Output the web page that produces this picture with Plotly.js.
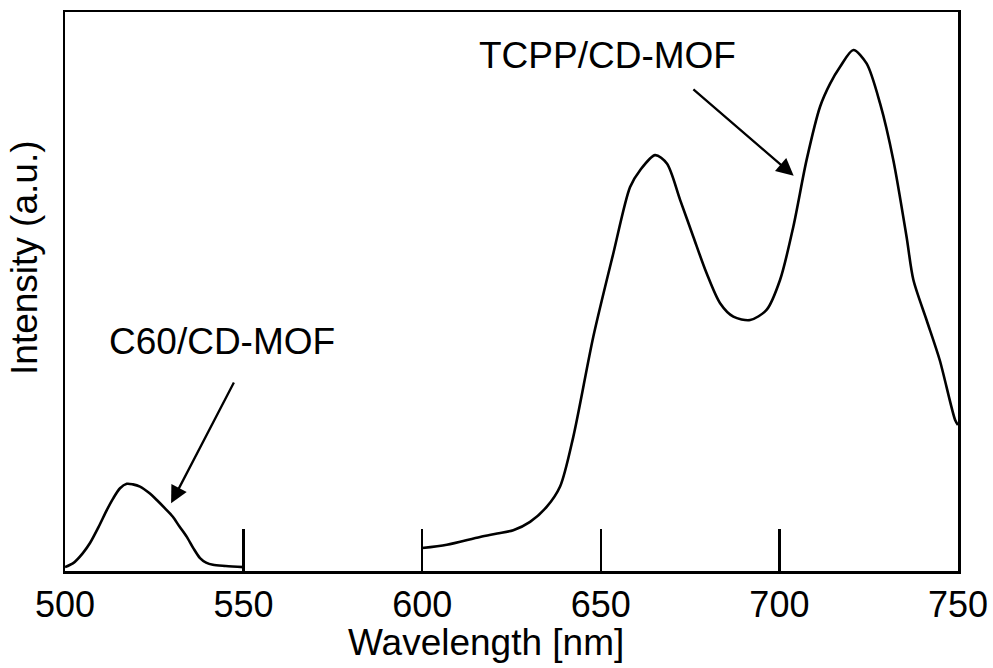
<!DOCTYPE html>
<html>
<head>
<meta charset="utf-8">
<script src="https://cdn.plot.ly/plotly-3.0.1.min.js"></script>
<style>html,body{margin:0;padding:0;background:#fff;}#chart{width:993px;height:668px;}</style>
</head>
<body>
<div id="chart"></div>
<script>
// C60/CD-MOF emission (wavelength nm, intensity a.u.)
const c60Wavelength = [500, 502.3, 505, 507, 509.5, 511.7, 513.5, 515.4, 517.3, 519, 521, 523.5, 525.7, 528, 530.2, 532, 534.1, 536, 537.8, 539.5, 541.4, 545, 550];
const c60Intensity  = [0.7, 1.4, 3.2, 5.0, 8.0, 10.9, 13.0, 14.8, 15.6, 15.5, 15.1, 14.0, 12.7, 11.2, 9.7, 8.0, 6.1, 4.0, 2.3, 1.5, 1.1, 0.9, 0.7];

// TCPP/CD-MOF emission
const tcppWavelength = [600, 606.9, 616.2, 621, 625.5, 630.2, 634.9, 638.6, 642.3, 647.9, 653.5, 658.2, 661.0, 665.2, 668.5, 672.2, 675.9, 679.6, 683.4, 687.1, 691.8, 696.4, 700.2, 703.9, 707.6, 711.4, 714.2, 717.0, 720.7, 724.4, 728.2, 731.9, 735.6, 737.5, 741.2, 744.9, 749.2, 750];
const tcppIntensity  = [4.1, 4.7, 6.1, 6.7, 7.3, 8.8, 11.5, 15.1, 24.0, 41.9, 56.8, 68.7, 71.7, 74.4, 72.9, 66.4, 59.8, 53.3, 47.9, 45.5, 44.9, 46.7, 52.1, 61.6, 73.5, 83.1, 87.2, 90.2, 93.2, 90.8, 83.6, 73.5, 59.8, 52.1, 44.9, 37.7, 27.0, 26.1];

const tickValues = [500, 550, 600, 650, 700, 750];
const tickLabels = ['500', '550', '600', '650', '700', '750'];

const seriesLabels = ['C60/CD-MOF', 'TCPP/CD-MOF'];
const xTitle = 'Wavelength [nm]';
const yTitle = 'Intensity (a.u.)';

const FONT = 'Arial, "Liberation Sans", Helvetica, sans-serif';

const traces = [
  {x: c60Wavelength, y: c60Intensity, name: seriesLabels[0], mode: 'lines',
   line: {color: '#000', width: 2.6, shape: 'spline', smoothing: 0.8}},
  {x: tcppWavelength, y: tcppIntensity, name: seriesLabels[1], mode: 'lines',
   line: {color: '#000', width: 2.6, shape: 'spline', smoothing: 0.8}}
];

const layout = {
  width: 993, height: 668,
  margin: {l: 65, r: 35, t: 12, b: 97},
  paper_bgcolor: '#fff', plot_bgcolor: '#fff',
  showlegend: false,
  font: {family: FONT, size: 36, color: '#000'},
  xaxis: {
    range: [500, 750], showgrid: false, zeroline: false,
    showline: true, mirror: true, linecolor: '#000', linewidth: 2.5,
    ticks: 'inside', ticklen: 42, tickwidth: 2.5, tickcolor: '#000',
    tickvals: tickValues, ticktext: tickLabels,
    tickfont: {family: FONT, size: 36, color: '#000'}
  },
  yaxis: {
    range: [0, 100], showgrid: false, zeroline: false,
    showline: true, mirror: true, linecolor: '#000', linewidth: 2.5,
    ticks: '', showticklabels: false
  },
  annotations: [
    {xref: 'x', yref: 'y', x: 544.0, y: 41.0, text: seriesLabels[0], showarrow: false,
     font: {family: FONT, size: 37, color: '#000'}, xanchor: 'center', yanchor: 'middle'},
    {xref: 'x', yref: 'y', x: 651.8, y: 92.3, text: seriesLabels[1], showarrow: false,
     font: {family: FONT, size: 37, color: '#000'}, xanchor: 'center', yanchor: 'middle'},
    {xref: 'x', yref: 'y', x: 529.7, y: 12.1, axref: 'x', ayref: 'y', ax: 547.5, ay: 34.0,
     text: '', showarrow: true, arrowhead: 2, arrowsize: 1.5, arrowwidth: 2.3, arrowcolor: '#000'},
    {xref: 'x', yref: 'y', x: 704.0, y: 70.7, axref: 'x', ayref: 'y', ax: 675.5, ay: 86.4,
     text: '', showarrow: true, arrowhead: 2, arrowsize: 1.5, arrowwidth: 2.3, arrowcolor: '#000'},
    {xref: 'x', yref: 'paper', x: 617.9, y: -0.128, text: xTitle, showarrow: false,
     font: {family: FONT, size: 37, color: '#000'}, xanchor: 'center', yanchor: 'middle'},
    {xref: 'paper', yref: 'paper', x: -0.0448, y: 0.56, text: yTitle, showarrow: false, textangle: -90,
     font: {family: FONT, size: 37, color: '#000'}, xanchor: 'center', yanchor: 'middle'}
  ]
};

Plotly.newPlot('chart', traces, layout, {displayModeBar: false, staticPlot: true});
</script>
</body>
</html>
